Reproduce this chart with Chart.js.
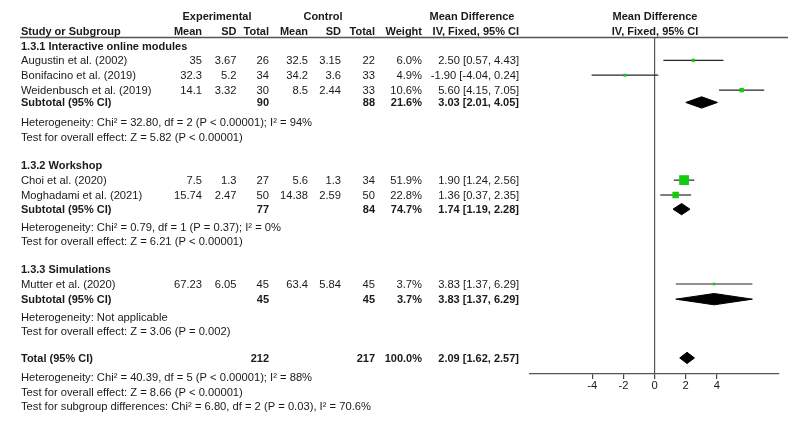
<!DOCTYPE html>
<html>
<head>
<meta charset="utf-8">
<script src="https://cdn.jsdelivr.net/npm/chart.js@4.4.1/dist/chart.umd.min.js"></script>
<style>
  html, body { margin: 0; padding: 0; background: #ffffff; }
  #wrap { width: 800px; height: 422px; }
</style>
</head>
<body>
<div id="wrap"><canvas id="c" width="800" height="422"></canvas></div>
<script>
// ---------------- DATA ----------------
const studies = ['Augustin et al. (2002)', 'Bonifacino et al. (2019)', 'Weidenbusch et al. (2019)',
                 'Choi et al. (2020)', 'Moghadami et al. (2021)', 'Mutter et al. (2020)'];
const expMean = ['35', '32.3', '14.1', '7.5', '15.74', '67.23'];
const expSD   = ['3.67', '5.2', '3.32', '1.3', '2.47', '6.05'];
const expN    = [26, 34, 30, 27, 50, 45];
const ctlMean = ['32.5', '34.2', '8.5', '5.6', '14.38', '63.4'];
const ctlSD   = ['3.15', '3.6', '2.44', '1.3', '2.59', '5.84'];
const ctlN    = [22, 33, 33, 34, 50, 45];
const weights = [6.0, 4.9, 10.6, 51.9, 22.8, 3.7];
const meanDiff = [2.50, -1.90, 5.60, 1.90, 1.36, 3.83];
const ciLow    = [0.57, -4.04, 4.15, 1.24, 0.37, 1.37];
const ciHigh   = [4.43, 0.24, 7.05, 2.56, 2.35, 6.29];

const groups      = ['1.3.1 Interactive online modules', '1.3.2 Workshop', '1.3.3 Simulations'];
const groupExpN   = [90, 77, 45];
const groupCtlN   = [88, 84, 45];
const groupWeight = [21.6, 74.7, 3.7];
const groupMD     = [3.03, 1.74, 3.83];
const groupLow    = [2.01, 1.19, 1.37];
const groupHigh   = [4.05, 2.28, 6.29];
const groupHet = ['Heterogeneity: Chi\u00B2 = 32.80, df = 2 (P < 0.00001); I\u00B2 = 94%',
                  'Heterogeneity: Chi\u00B2 = 0.79, df = 1 (P = 0.37); I\u00B2 = 0%',
                  'Heterogeneity: Not applicable'];
const groupTest = ['Test for overall effect: Z = 5.82 (P < 0.00001)',
                   'Test for overall effect: Z = 6.21 (P < 0.00001)',
                   'Test for overall effect: Z = 3.06 (P = 0.002)'];

const totalExpN = 212, totalCtlN = 217, totalWeight = 100.0;
const totalMD = 2.09, totalLow = 1.62, totalHigh = 2.57;
const totalNotes = ['Heterogeneity: Chi\u00B2 = 40.39, df = 5 (P < 0.00001); I\u00B2 = 88%',
                    'Test for overall effect: Z = 8.66 (P < 0.00001)',
                    'Test for subgroup differences: Chi\u00B2 = 6.80, df = 2 (P = 0.03), I\u00B2 = 70.6%'];
const xTicks = [-4, -2, 0, 2, 4];

// ---------------- LAYOUT (line slots, not data) ----------------
const L = {
  line0: 15.7, lineH: 14.88, top: 37, bottom: 374, textShift: 1,
  studyLine: [3, 4, 5, 11.05, 12.05, 18.03],
  groupHeadLine: [2.02, 10.03, 17.04],
  subtotalLine: [5.83, 13.0, 19.05],
  hetLine: [7.16, 14.18, 20.23],
  testLine: [8.13, 15.14, 21.17],
  totalLine: 23,
  totalNotesLine: [24.26, 25.27, 26.21],
  diamondHalf: 0.38,
  cols: { name: 21, expMean: 202, expSD: 236.5, expN: 269, ctlMean: 308, ctlSD: 341, ctlN: 375, weight: 422, ci: 519 }
};
const FONT = '"Liberation Sans", Arial, sans-serif';
const FS = 11.2;
const FSB = 11;
const TXT = '#1a1a1a';

const fmt2 = v => v.toFixed(2);
const ciText = (m, lo, hi) => `${fmt2(m)} [${fmt2(lo)}, ${fmt2(hi)}]`;

// ---------------- DATASETS ----------------
const datasets = [];
// study markers
datasets.push({
  type: 'scatter',
  order: 0,
  data: meanDiff.map((m, i) => ({ x: m, y: L.studyLine[i] })),
  pointStyle: 'rect',
  pointRadius: weights.map(w => Math.max(2.6, 1.36 * Math.sqrt(w)) / Math.SQRT2),
  backgroundColor: '#11cc11',
  borderColor: '#11cc11',
  borderWidth: 0,
  showLine: false
});
// CI lines
meanDiff.forEach((m, i) => {
  datasets.push({
    type: 'line', order: 2,
    data: [{ x: ciLow[i], y: L.studyLine[i] }, { x: ciHigh[i], y: L.studyLine[i] }],
    borderColor: '#262626', borderWidth: 1.2, pointRadius: 0, fill: false, tension: 0
  });
});
// diamonds
function diamond(m, lo, hi, y) {
  return {
    type: 'line', order: 1,
    data: [{ x: lo, y: y }, { x: m, y: y - L.diamondHalf }, { x: hi, y: y }, { x: m, y: y + L.diamondHalf }, { x: lo, y: y }],
    borderColor: '#000000', backgroundColor: '#000000', borderWidth: 1,
    pointRadius: 0, fill: 'shape', tension: 0
  };
}
groupMD.forEach((m, g) => datasets.push(diamond(m, groupLow[g], groupHigh[g], L.subtotalLine[g])));
datasets.push(diamond(totalMD, totalLow, totalHigh, L.totalLine));

// ---------------- TABLE TEXT PLUGIN ----------------
const tablePlugin = {
  id: 'table',
  afterDraw(chart) {
    const ctx = chart.ctx;
    const ys = chart.scales.y;
    const Y = v => ys.getPixelForValue(v) + L.textShift;
    const C = L.cols;
    ctx.save();
    ctx.fillStyle = TXT;
    ctx.textBaseline = 'middle';
    const txt = (s, x, y, align, bold) => {
      ctx.font = (bold ? 'bold ' + FSB : FS) + 'px ' + FONT;
      ctx.textAlign = align || 'left';
      ctx.fillText(s, x, y);
    };
    // header
    const h0 = Y(0), h1 = Y(1.03);
    txt('Experimental', 217, h0, 'center', true);
    txt('Control', 323, h0, 'center', true);
    txt('Mean Difference', 472, h0, 'center', true);
    txt('Mean Difference', 655, h0, 'center', true);
    txt('Study or Subgroup', C.name, h1, 'left', true);
    txt('Mean', C.expMean, h1, 'right', true);
    txt('SD', C.expSD, h1, 'right', true);
    txt('Total', C.expN, h1, 'right', true);
    txt('Mean', C.ctlMean, h1, 'right', true);
    txt('SD', C.ctlSD, h1, 'right', true);
    txt('Total', C.ctlN, h1, 'right', true);
    txt('Weight', C.weight, h1, 'right', true);
    txt('IV, Fixed, 95% CI', C.ci, h1, 'right', true);
    txt('IV, Fixed, 95% CI', 655, h1, 'center', true);
    // header rule
    ctx.strokeStyle = '#555555';
    ctx.lineWidth = 1.6;
    ctx.beginPath();
    ctx.moveTo(20, L.top + 0.5);
    ctx.lineTo(788, L.top + 0.5);
    ctx.stroke();
    // studies
    studies.forEach((s, i) => {
      const y = Y(L.studyLine[i]);
      txt(s, C.name, y, 'left', false);
      txt(expMean[i], C.expMean, y, 'right');
      txt(expSD[i], C.expSD, y, 'right');
      txt(String(expN[i]), C.expN, y, 'right');
      txt(ctlMean[i], C.ctlMean, y, 'right');
      txt(ctlSD[i], C.ctlSD, y, 'right');
      txt(String(ctlN[i]), C.ctlN, y, 'right');
      txt(weights[i].toFixed(1) + '%', C.weight, y, 'right');
      txt(ciText(meanDiff[i], ciLow[i], ciHigh[i]), C.ci, y, 'right');
    });
    // groups
    groups.forEach((g, k) => {
      txt(g, C.name, Y(L.groupHeadLine[k]), 'left', true);
      const y = Y(L.subtotalLine[k]);
      txt('Subtotal (95% CI)', C.name, y, 'left', true);
      txt(String(groupExpN[k]), C.expN, y, 'right', true);
      txt(String(groupCtlN[k]), C.ctlN, y, 'right', true);
      txt(groupWeight[k].toFixed(1) + '%', C.weight, y, 'right', true);
      txt(ciText(groupMD[k], groupLow[k], groupHigh[k]), C.ci, y, 'right', true);
      txt(groupHet[k], C.name, Y(L.hetLine[k]), 'left');
      txt(groupTest[k], C.name, Y(L.testLine[k]), 'left');
    });
    // total
    const yt = Y(L.totalLine);
    txt('Total (95% CI)', C.name, yt, 'left', true);
    txt(String(totalExpN), C.expN, yt, 'right', true);
    txt(String(totalCtlN), C.ctlN, yt, 'right', true);
    txt(totalWeight.toFixed(1) + '%', C.weight, yt, 'right', true);
    txt(ciText(totalMD, totalLow, totalHigh), C.ci, yt, 'right', true);
    totalNotes.forEach((n, k) => txt(n, C.name, Y(L.totalNotesLine[k]), 'left'));
    ctx.restore();
  }
};

// ---------------- CHART ----------------
const yMin = (L.top - L.line0) / L.lineH;
const yMax = (L.bottom - L.line0) / L.lineH;

new Chart(document.getElementById('c'), {
  type: 'scatter',
  data: { datasets },
  options: {
    responsive: false,
    animation: false,
    devicePixelRatio: 1,
    layout: { padding: { left: 530, right: 21, top: L.top, bottom: 422 - L.bottom - 20 } },
    plugins: { legend: { display: false }, tooltip: { enabled: false } },
    elements: { line: { tension: 0 } },
    scales: {
      x: {
        type: 'linear', min: -8, max: 8,
        afterBuildTicks: axis => { axis.ticks = xTicks.map(v => ({ value: v })); },
        afterFit: axis => { axis.height = 20; },
        border: { display: true, color: '#555555', width: 1.2 },
        grid: {
          drawOnChartArea: true,
          color: c => (c.tick && c.tick.value === 0) ? '#555555' : 'rgba(0,0,0,0)',
          tickColor: '#444444', tickLength: 5, lineWidth: 1.2
        },
        ticks: { font: { family: FONT, size: FS }, color: TXT, padding: 0, autoSkip: false, maxRotation: 0,
                 callback: v => String(v) }
      },
      y: { type: 'linear', display: false, reverse: true, min: yMin, max: yMax }
    }
  },
  plugins: [tablePlugin]
});
</script>
</body>
</html>
